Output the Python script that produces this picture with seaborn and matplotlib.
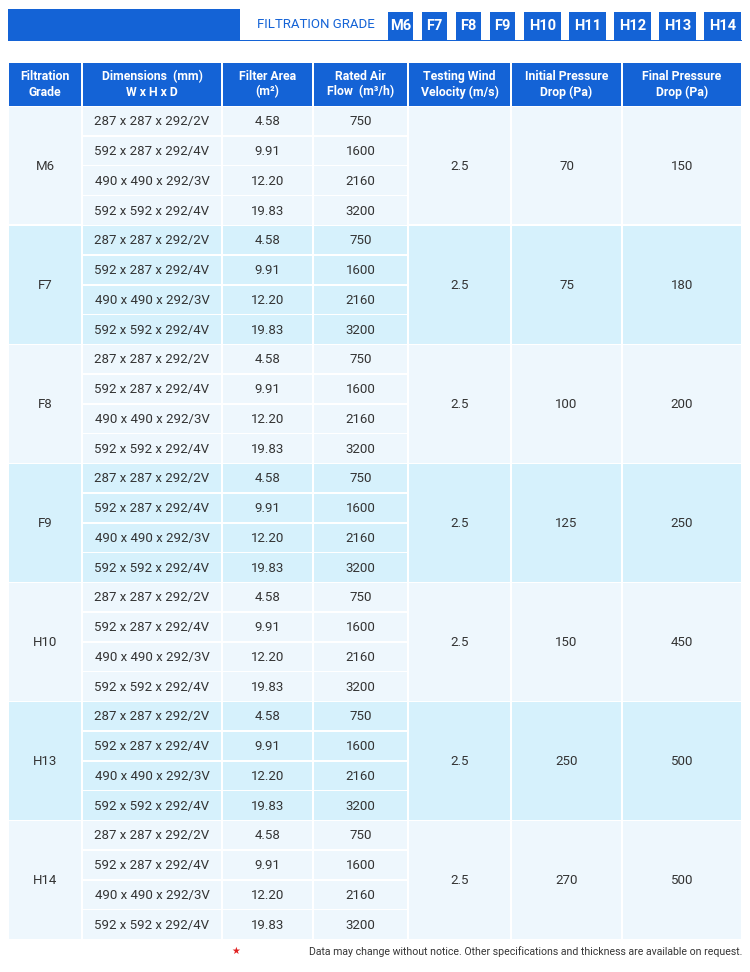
import matplotlib
matplotlib.use("Agg")
import matplotlib.pyplot as plt
from matplotlib.patches import Rectangle
import seaborn as sns

sns.set_theme(style="white")

grades = ["M6", "F7", "F8", "F9", "H10", "H13", "H14"]
dimensions = ["287 x 287 x 292/2V", "592 x 287 x 292/4V", "490 x 490 x 292/3V", "592 x 592 x 292/4V"]
filter_area = ["4.58", "9.91", "12.20", "19.83"]
air_flow = ["750", "1600", "2160", "3200"]
velocity = ["2.5"] * 7
initial_drop = ["70", "75", "100", "125", "150", "250", "270"]
final_drop = ["150", "180", "200", "250", "450", "500", "500"]
banner_grades = ["M6", "F7", "F8", "F9", "H10", "H11", "H12", "H13", "H14"]
headers = ["Filtration\nGrade", "Dimensions  (mm)\nW x H x D", "Filter Area\n(m²)", "Rated Air\nFlow  (m³/h)",
           "Testing Wind\nVelocity (m/s)", "Initial Pressure\nDrop (Pa)", "Final Pressure\nDrop (Pa)"]
footnote = "Data may change without notice. Other specifications and thickness are available on request."

FONT = "Roboto"
BLUE = "#1463d6"
LIGHT = ["#eef7fd", "#d6f1fc"]
TXT = "#333333"

fig = plt.figure(figsize=(7.5, 9.72), dpi=100)
ax = fig.add_axes([0, 0, 1, 1])
ax.set_xlim(0, 750)
ax.set_ylim(972, 0)
ax.axis("off")

# Banner
ax.add_patch(Rectangle((8, 9), 734, 32, color=BLUE, lw=0))
ax.add_patch(Rectangle((240, 9), 502, 31, color="white", lw=0))
ax.text(316, 25, "FILTRATION GRADE", color=BLUE, fontsize=9.5, ha="center", va="center", family=FONT)
x = 388
for g in banner_grades:
    w = 25 if len(g) == 2 else 37
    ax.add_patch(Rectangle((x, 12), w, 28, color=BLUE, lw=0))
    ax.text(x + w / 2, 25.5, g, color="white", fontsize=10.5, fontweight="bold",
            ha="center", va="center", family=FONT)
    x += w + (9 if len(g) == 2 else 8)

cols = [8, 82, 222, 313, 408, 511, 622, 742]
gap = 1.5
for i, h in enumerate(headers):
    x0, x1 = cols[i], cols[i + 1]
    ax.add_patch(Rectangle((x0 + gap / 2, 63), x1 - x0 - gap, 43, color=BLUE, lw=0))
    ax.text((x0 + x1) / 2, 84.5, h, color="white", fontsize=8.8, fontweight="bold",
            ha="center", va="center", family=FONT, linespacing=1.2)

top = 107
gh = 119
sh = gh / 4
for gi, g in enumerate(grades):
    y0 = top + gi * gh
    c = LIGHT[gi % 2]
    for ci in [0, 4, 5, 6]:
        x0, x1 = cols[ci], cols[ci + 1]
        ax.add_patch(Rectangle((x0 + gap / 2, y0), x1 - x0 - gap, gh - gap, color=c, lw=0))
    ax.text((cols[0] + cols[1]) / 2, y0 + gh / 2, g, color=TXT, fontsize=9.5, ha="center", va="center", family=FONT)
    for ci, val in zip([4, 5, 6], [velocity[gi], initial_drop[gi], final_drop[gi]]):
        ax.text((cols[ci] + cols[ci + 1]) / 2, y0 + gh / 2, val, color=TXT, fontsize=9.5,
                ha="center", va="center", family=FONT)
    for si in range(4):
        ys = y0 + si * sh
        for ci, vals in zip([1, 2, 3], [dimensions, filter_area, air_flow]):
            x0, x1 = cols[ci], cols[ci + 1]
            ax.add_patch(Rectangle((x0 + gap / 2, ys), x1 - x0 - gap, sh - gap, color=c, lw=0))
            ax.text((x0 + x1) / 2, ys + sh / 2, vals[si], color=TXT, fontsize=9.5,
                    ha="center", va="center", family=FONT)

ax.text(742, 952, footnote, color=TXT, fontsize=7.6, ha="right", va="center", family=FONT)
ax.text(236, 951, "★", color="#e02020", fontsize=7, ha="center", va="center", family="DejaVu Sans")

fig.savefig("out.png", dpi=100)
